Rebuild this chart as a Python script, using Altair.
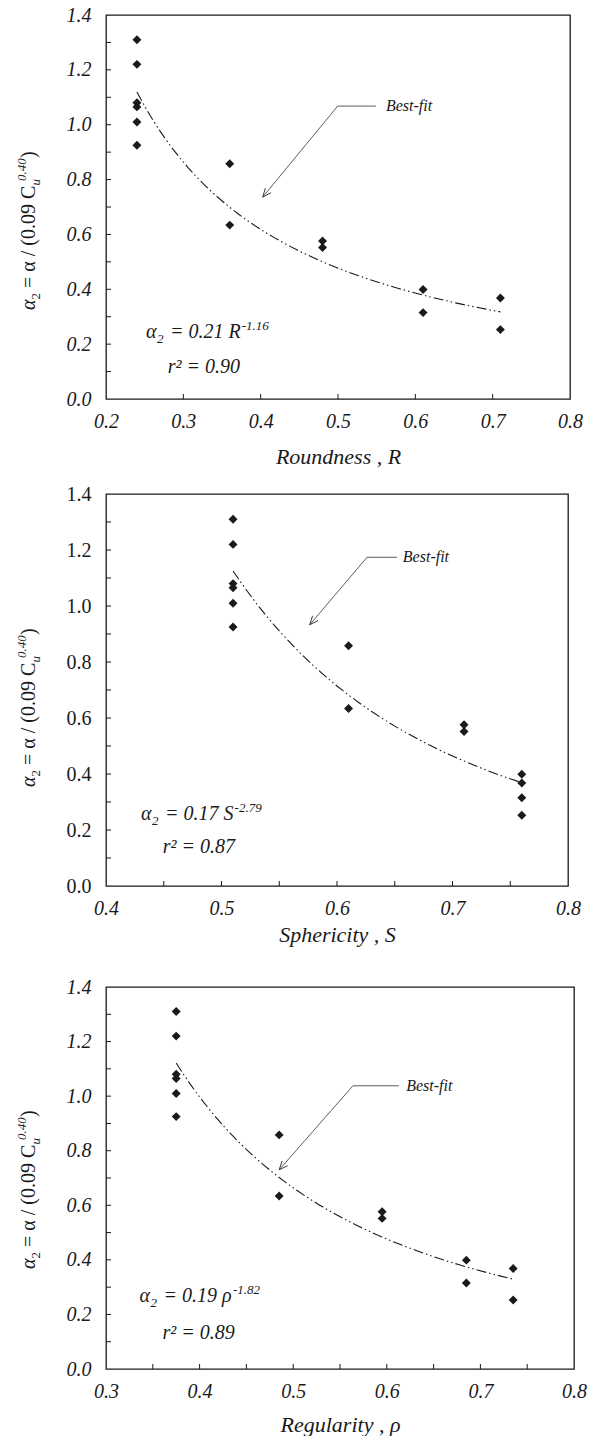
import math
import altair as alt
import pandas as pd

# ---------------- data ----------------
alpha2 = [1.31, 1.22, 1.08, 1.065, 1.01, 0.925, 0.858, 0.634, 0.576, 0.552, 0.399, 0.315, 0.368, 0.253]
roundness = [0.24, 0.24, 0.24, 0.24, 0.24, 0.24, 0.36, 0.36, 0.48, 0.48, 0.61, 0.61, 0.71, 0.71]
sphericity = [0.51, 0.51, 0.51, 0.51, 0.51, 0.51, 0.61, 0.61, 0.71, 0.71, 0.76, 0.76, 0.76, 0.76]
regularity = [0.375, 0.375, 0.375, 0.375, 0.375, 0.375, 0.485, 0.485, 0.595, 0.595, 0.685, 0.685, 0.735, 0.735]

y_labels = [0.0, 0.2, 0.4, 0.6, 0.8, 1.0, 1.2, 1.4]
y_ticks = [0.1, 0.2, 0.3, 0.4, 0.5, 0.6, 0.7, 0.8, 0.9, 1.0, 1.1, 1.2, 1.3]
x_labels_R = [0.2, 0.3, 0.4, 0.5, 0.6, 0.7, 0.8]
x_ticks_R = [0.3, 0.4, 0.5, 0.6, 0.7]
x_labels_S = [0.4, 0.5, 0.6, 0.7, 0.8]
x_ticks_S = [0.45, 0.5, 0.55, 0.6, 0.65, 0.7, 0.75]
x_labels_rho = [0.3, 0.4, 0.5, 0.6, 0.7, 0.8]
x_ticks_rho = [0.35, 0.4, 0.45, 0.5, 0.55, 0.6, 0.65, 0.7, 0.75]

# annotation anchors in data units: text, bend, end of horizontal leader, arrow tip
best_fit_R = {"text": (0.562, 1.068), "bend": (0.4996, 1.068), "end": (0.549, 1.068), "tip": (0.4026, 0.736)}
best_fit_S = {"text": (0.657, 1.174), "bend": (0.626, 1.174), "end": (0.652, 1.174), "tip": (0.5764, 0.933)}
best_fit_rho = {"text": (0.6207, 1.038), "bend": (0.5638, 1.038), "end": (0.6128, 1.038), "tip": (0.485, 0.730)}

eq_R = {"pos": (0.2517, 0.2213), "r2pos": (0.2798, 0.0959), "coef": "= 0.21 R", "exp": "-1.16", "r2": "r² = 0.90", "w": 70.7}
eq_S = {"pos": (0.4304, 0.2368), "r2pos": (0.4492, 0.1179), "coef": "= 0.17 S", "exp": "-2.79", "r2": "r² = 0.87", "w": 68.5}
eq_rho = {"pos": (0.3358, 0.2447), "r2pos": (0.3603, 0.110), "coef": "= 0.19 ρ", "exp": "-1.82", "r2": "r² = 0.89", "w": 68.5}

SERIF = "'Liberation Serif', 'Times New Roman', Times, serif"
INK = "#1a1a1a"
ARROW = "M -1 -0.42 L 0 0 L -1 0.42"


def panel(xs, xdom, xlabels, xticks, xtitle, W, H, ylab_style, title_pad, ann, eq, ytitle_y):
    xsc = alt.Scale(domain=xdom, nice=False, zero=False)
    ysc = alt.Scale(domain=[0, 1.4], nice=False, zero=False)
    df = pd.DataFrame({"x": xs, "y": alpha2})

    xaxis = alt.Axis(values=xlabels, format=".1f", title=xtitle, ticks=False, domain=False, grid=False,
                     labelFont=SERIF, labelFontSize=20, labelFontStyle="italic", labelPadding=12,
                     labelFlush=False, labelColor=INK, titleFont=SERIF, titleFontSize=22,
                     titleFontStyle="italic", titleFontWeight="normal", titlePadding=title_pad,
                     titleColor=INK)
    yaxis = alt.Axis(values=y_labels, format=".1f", title=None, ticks=False, domain=False, grid=False,
                     labelFont=SERIF, labelFontSize=20, labelFontStyle=ylab_style, labelPadding=15,
                     labelColor=INK, labelFlush=False)

    def X(field):
        return alt.X(field, scale=xsc, axis=xaxis)

    def Y(field):
        return alt.Y(field, scale=ysc, axis=yaxis)

    layers = []
    layers.append(alt.Chart(df).mark_point(shape="diamond", filled=True, size=80, color=INK, opacity=1).encode(
        x=X("x:Q"), y=Y("y:Q")))
    layers.append(alt.Chart(df).transform_regression("x", "y", method="pow").mark_line(
        color=INK, strokeWidth=1.1, strokeDash=[10, 3, 1.5, 3, 1.5, 3]).encode(x=X("x:Q"), y=Y("y:Q")))

    # inward ticks
    layers.append(alt.Chart(pd.DataFrame({"t": xticks})).mark_rule(color=INK, strokeWidth=1).encode(
        x=X("t:Q"), y=alt.value(H), y2=alt.value(H - 5)))
    layers.append(alt.Chart(pd.DataFrame({"t": y_ticks})).mark_rule(color=INK, strokeWidth=1).encode(
        y=Y("t:Q"), x=alt.value(0), x2=alt.value(5)))

    # best-fit leader
    seg = pd.DataFrame({
        "x1": [ann["end"][0], ann["bend"][0]], "y1": [ann["end"][1], ann["bend"][1]],
        "x2": [ann["bend"][0], ann["tip"][0]], "y2": [ann["bend"][1], ann["tip"][1]],
    })
    layers.append(alt.Chart(seg).mark_rule(color="#333", strokeWidth=0.8).encode(
        x=X("x1:Q"), y=Y("y1:Q"), x2="x2:Q", y2="y2:Q"))
    dxp = (ann["tip"][0] - ann["bend"][0]) / (xdom[1] - xdom[0]) * W
    dyp = -(ann["tip"][1] - ann["bend"][1]) / 1.4 * H
    ang = math.degrees(math.atan2(dyp, dxp)) % 360
    tip = pd.DataFrame({"x": [ann["tip"][0]], "y": [ann["tip"][1]]})
    layers.append(alt.Chart(tip).mark_point(shape=ARROW, filled=False, size=300, strokeWidth=0.9,
                                             color="#333", opacity=1, angle=ang).encode(x=X("x:Q"), y=Y("y:Q")))
    lab = pd.DataFrame({"x": [ann["text"][0]], "y": [ann["text"][1]], "t": ["Best-fit"]})
    layers.append(alt.Chart(lab).mark_text(align="left", baseline="middle", font=SERIF, fontSize=16,
                                           fontStyle="italic", color=INK).encode(
        x=X("x:Q"), y=Y("y:Q"), text="t:N"))

    # equation
    e = pd.DataFrame({"x": [eq["pos"][0]], "y": [eq["pos"][1]], "rx": [eq["r2pos"][0]], "ry": [eq["r2pos"][1]],
                      "a": ["α"], "s": ["2"], "c": [eq["coef"]], "p": [eq["exp"]], "r": [eq["r2"]]})
    pieces = [("a", 20, 0, 0), ("s", 13, 11, 5), ("c", 20, 24, 0), ("p", 13, 24 + eq["w"] + 1, -8)]
    for col, fs, dx, dy in pieces:
        layers.append(alt.Chart(e).mark_text(align="left", baseline="alphabetic", font=SERIF, fontSize=fs,
                                             fontStyle="italic", color=INK, dx=dx, dy=dy).encode(
            x=X("x:Q"), y=Y("y:Q"), text=f"{col}:N"))
    layers.append(alt.Chart(e).mark_text(align="left", baseline="alphabetic", font=SERIF, fontSize=20,
                                         fontStyle="italic", color=INK).encode(
        x=X("rx:Q"), y=Y("ry:Q"), text="r:N"))

    # rotated y-axis title built from pieces
    yt = pd.DataFrame({"a": ["α"], "s": ["2"], "m": ["= α / (0.09 C"], "u": ["u"], "p": ["0.40"], "c": [")"]})
    tpieces = [("a", 20, "italic", 0, 0), ("s", 13, "normal", 10.5, 5), ("m", 20, "normal", 22, 0),
               ("u", 13, "italic", 124.5, 5), ("p", 13, "italic", 129, -9), ("c", 20, "normal", 152, 0)]
    for col, fs, st, dx, dy in tpieces:
        layers.append(alt.Chart(yt).mark_text(align="left", baseline="alphabetic", font=SERIF, fontSize=fs,
                                              fontStyle=st, color=INK, angle=270, dx=dx, dy=dy).encode(
            x=alt.value(-71), y=alt.value(ytitle_y), text=f"{col}:N"))

    return alt.layer(*layers).properties(width=W, height=H)


p1 = panel(roundness, [0.2, 0.8], x_labels_R, x_ticks_R, "Roundness , R", 464, 384, "italic", 15, best_fit_R, eq_R, 295)
p2 = panel(sphericity, [0.4, 0.8], x_labels_S, x_ticks_S, "Sphericity , S", 462, 392, "normal", 6, best_fit_S, eq_S, 293)
p3 = panel(regularity, [0.3, 0.8], x_labels_rho, x_ticks_rho, "Regularity , ρ", 468, 382, "italic", 13, best_fit_rho, eq_rho, 282)

chart = alt.vconcat(alt.vconcat(p1, p2, spacing=15), p3, spacing=30).configure_view(
    stroke=INK, strokeWidth=1.3
).properties(padding={"left": 15, "top": 4, "right": 5, "bottom": 0}, background="white")

chart.save("out.html", embed_options={"renderer": "svg", "actions": False})
